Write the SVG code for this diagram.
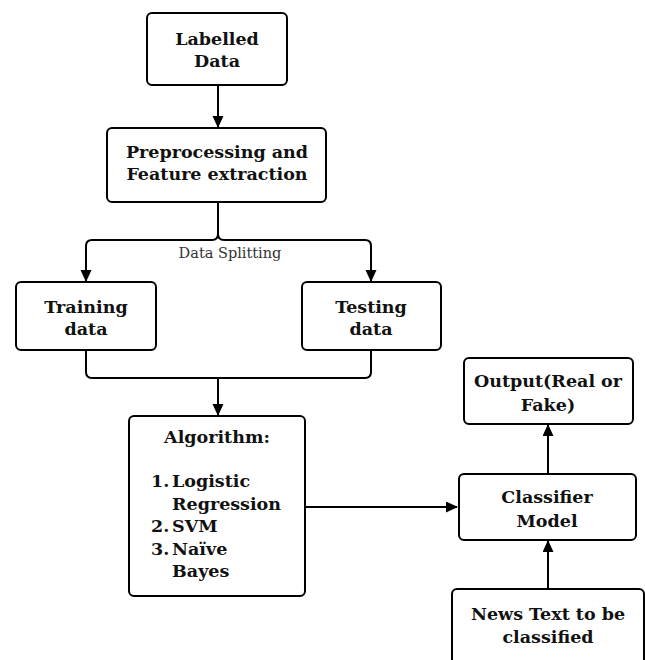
<svg xmlns="http://www.w3.org/2000/svg" width="645" height="660" viewBox="0 0 645 660">
<style>
.box{fill:#fff;stroke:#000;stroke-width:2}
.t{font-family:"DejaVu Serif","Liberation Serif",serif;font-weight:bold;font-size:17.5px;fill:#111;text-anchor:middle}
.tl{font-family:"DejaVu Serif","Liberation Serif",serif;font-weight:bold;font-size:17.5px;fill:#111}
.lbl{font-family:"DejaVu Serif","Liberation Serif",serif;font-size:14.5px;fill:#333;text-anchor:middle}
.c{fill:none;stroke:#000;stroke-width:2}
</style>
<defs>
<marker id="ah" markerWidth="12" markerHeight="12" refX="11" refY="5.5" orient="auto" markerUnits="userSpaceOnUse">
<path d="M0,0 L12,5.5 L0,11 Z" fill="#000"/>
</marker>
</defs>
<rect width="645" height="660" fill="#fff"/>
<g id="connectors">
<path class="c" d="M218,85 V127" marker-end="url(#ah)"/>
<path class="c" d="M218,202 V234 Q218,240 212,240 H92 Q86,240 86,246 V281" marker-end="url(#ah)"/>
<path class="c" d="M218,234 Q218,240 224,240 H365 Q371,240 371,246 V281" marker-end="url(#ah)"/>
<path class="c" d="M86,350 V372 Q86,378 92,378 H365 Q371,378 371,372 V350"/>
<path class="c" d="M218,378 V415" marker-end="url(#ah)"/>
<path class="c" d="M305,507 H457" marker-end="url(#ah)"/>
<path class="c" d="M548,474 V425" marker-end="url(#ah)"/>
<path class="c" d="M548,589 V541" marker-end="url(#ah)"/>
<text class="lbl" x="230" y="258">Data Splitting</text>
</g>
<g id="labelled">
<rect class="box" x="147" y="13" width="140" height="72" rx="5"/>
<text class="t" x="217" y="45">Labelled</text>
<text class="t" x="217" y="67">Data</text>
</g>
<g id="preprocessing">
<rect class="box" x="107" y="128" width="219" height="74" rx="5"/>
<text class="t" x="217" y="158">Preprocessing and</text>
<text class="t" x="217" y="180">Feature extraction</text>
</g>
<g id="training">
<rect class="box" x="16" y="282" width="140" height="68" rx="5"/>
<text class="t" x="86" y="313">Training</text>
<text class="t" x="86" y="335">data</text>
</g>
<g id="testing">
<rect class="box" x="302" y="282" width="139" height="68" rx="5"/>
<text class="t" x="371" y="313">Testing</text>
<text class="t" x="371" y="335">data</text>
</g>
<g id="algorithm">
<rect class="box" x="129" y="416" width="176" height="180" rx="5"/>
<text class="t" x="217" y="443">Algorithm:</text>
<text class="tl" x="151" y="487">1.</text><text class="tl" x="172" y="487">Logistic</text>
<text class="tl" x="172" y="510">Regression</text>
<text class="tl" x="151" y="532">2.</text><text class="tl" x="172" y="532">SVM</text>
<text class="tl" x="151" y="555">3.</text><text class="tl" x="172" y="555">Naïve</text>
<text class="tl" x="172" y="577">Bayes</text>
</g>
<g id="output">
<rect class="box" x="464" y="358" width="169" height="66" rx="5"/>
<text class="t" x="548" y="387">Output(Real or</text>
<text class="t" x="548" y="411">Fake)</text>
</g>
<g id="classifier">
<rect class="box" x="459" y="474" width="177" height="66" rx="5"/>
<text class="t" x="547" y="503">Classifier</text>
<text class="t" x="547" y="527">Model</text>
</g>
<g id="news">
<rect class="box" x="452" y="589" width="192" height="80" rx="5"/>
<text class="t" x="548" y="620">News Text to be</text>
<text class="t" x="548" y="643">classified</text>
</g>
</svg>
